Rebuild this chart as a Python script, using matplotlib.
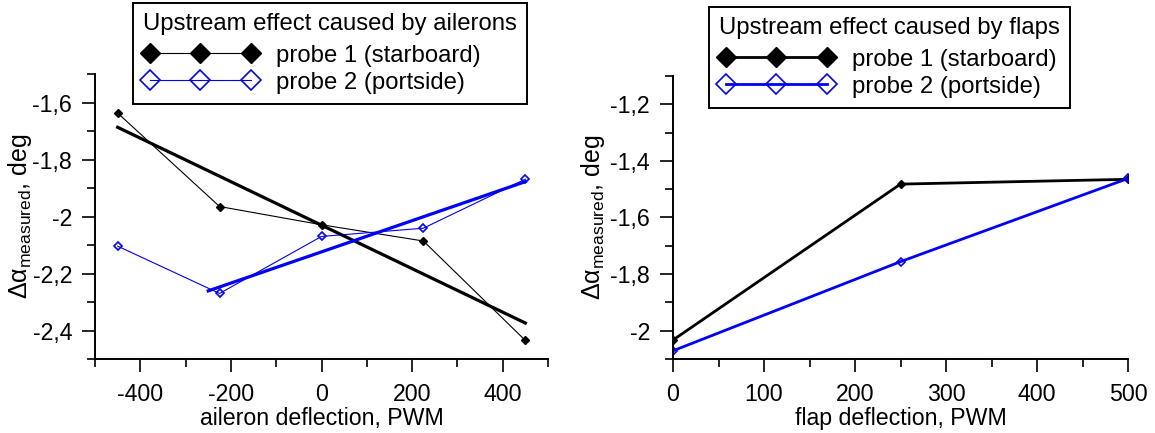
import numpy as np
import matplotlib
matplotlib.use("Agg")
import matplotlib.pyplot as plt
from matplotlib.ticker import MultipleLocator, FuncFormatter

plt.rcParams['font.family'] = ['Liberation Sans', 'DejaVu Sans']
plt.rcParams['mathtext.fontset'] = 'custom'
plt.rcParams['mathtext.rm'] = 'Liberation Sans'
plt.rcParams['mathtext.it'] = 'Liberation Sans:italic'
plt.rcParams['axes.unicode_minus'] = False

# aileron data
ail_x = [-450, -225, 0, 225, 450]
ail_p1 = [-1.637, -1.965, -2.029, -2.086, -2.435]
ail_p2 = [-2.104, -2.270, -2.070, -2.041, -1.869]
# ranges the two fit lines were drawn over
fit1_range = [-450, 450]
fit2_range = [-250, 450]

# flap data
flap_x = [0, 250, 500]
flap_p1 = [-2.033, -1.482, -1.465]
flap_p2 = [-2.071, -1.756, -1.462]

BLUE = '#0000ff'
FS = 16.7
LEG_FS = 17.2


def fmt(v, pos):
	return ('%g' % round(v, 3)).replace('.', ',')


def style_axes(ax):
	ax.spines['top'].set_visible(False)
	ax.spines['right'].set_visible(False)
	for s in ('left', 'bottom'):
		ax.spines[s].set_linewidth(1.4)
	ax.tick_params(which='major', direction='out', length=9.5, width=1.2, labelsize=FS)
	ax.tick_params(which='minor', direction='out', length=6, width=1.2)
	ax.tick_params(axis='x', which='major', pad=7.5)
	ax.tick_params(axis='y', which='major', pad=7)
	ax.xaxis.set_major_formatter(FuncFormatter(fmt))
	ax.yaxis.set_major_formatter(FuncFormatter(fmt))


def make_legend(ax, title, anchor):
	leg = ax.legend(title=title, loc='upper left', bbox_to_anchor=anchor,
		bbox_transform=ax.figure.transFigure, borderaxespad=0, numpoints=3,
		markerscale=2.4, fontsize=LEG_FS, title_fontsize=LEG_FS, handlelength=4.8,
		handletextpad=0.75, labelspacing=0.2, borderpad=0.42, fancybox=False,
		framealpha=1, edgecolor='black', alignment='left')
	leg.get_frame().set_linewidth(1.4)
	# a bit more room under the title, as in the original
	leg._legend_box.sep = 7
	return leg


fig = plt.figure(figsize=(11.55, 4.33), dpi=100)
ax1 = fig.add_axes([95 / 1155, 74 / 433, 453 / 1155, 285 / 433])
ax2 = fig.add_axes([673 / 1155, 74 / 433, 455 / 1155, 283 / 433])

# ailerons
ax1.plot(ail_x, ail_p1, '-', color='black', lw=0.8, marker='D', ms=4.3,
	label='probe 1 (starboard)')
ax1.plot(ail_x, ail_p2, '-', color=BLUE, lw=0.8, marker='D', ms=4.4,
	mfc='none', mew=1.2, label='probe 2 (portside)')
c1 = np.polyfit(ail_x, ail_p1, 1)
c2 = np.polyfit(ail_x[1:], ail_p2[1:], 1)
ax1.plot(fit1_range, np.polyval(c1, fit1_range), color='black', lw=2.3)
ax1.plot(fit2_range, np.polyval(c2, fit2_range), color=BLUE, lw=2.3)
ax1.set_xlim(-500, 500)
ax1.set_ylim(-2.5, -1.5)
ax1.xaxis.set_major_locator(MultipleLocator(200))
ax1.xaxis.set_minor_locator(MultipleLocator(100))
ax1.yaxis.set_major_locator(MultipleLocator(0.2))
ax1.yaxis.set_minor_locator(MultipleLocator(0.1))
style_axes(ax1)
ax1.set_xlabel('aileron deflection, PWM', fontsize=FS, labelpad=1)
ax1.set_ylabel('\u0394\u03b1$_{\\rm measured}$, deg', fontsize=18)
ax1.yaxis.set_label_coords(-0.135, 0.5)
make_legend(ax1, 'Upstream effect caused by ailerons', (133 / 1155, 1 - 3 / 433))

# flaps
ax2.plot(flap_x, flap_p1, '-', color='black', lw=2.0, marker='D', ms=4.3,
	label='probe 1 (starboard)')
ax2.plot(flap_x, flap_p2, '-', color=BLUE, lw=2.0, marker='D', ms=4.4,
	mfc='none', mew=1.2, label='probe 2 (portside)')
ax2.set_xlim(0, 500)
ax2.set_ylim(-2.1, -1.1)
ax2.xaxis.set_major_locator(MultipleLocator(100))
ax2.xaxis.set_minor_locator(MultipleLocator(50))
ax2.yaxis.set_major_locator(MultipleLocator(0.2))
ax2.yaxis.set_minor_locator(MultipleLocator(0.1))
style_axes(ax2)
ax2.set_xlabel('flap deflection, PWM', fontsize=FS, labelpad=1)
ax2.set_ylabel('\u0394\u03b1$_{\\rm measured}$, deg', fontsize=18)
ax2.yaxis.set_label_coords(-0.145, 0.5)
make_legend(ax2, 'Upstream effect caused by flaps', (709 / 1155, 1 - 7 / 433))

fig.savefig('out.png', dpi=100)
